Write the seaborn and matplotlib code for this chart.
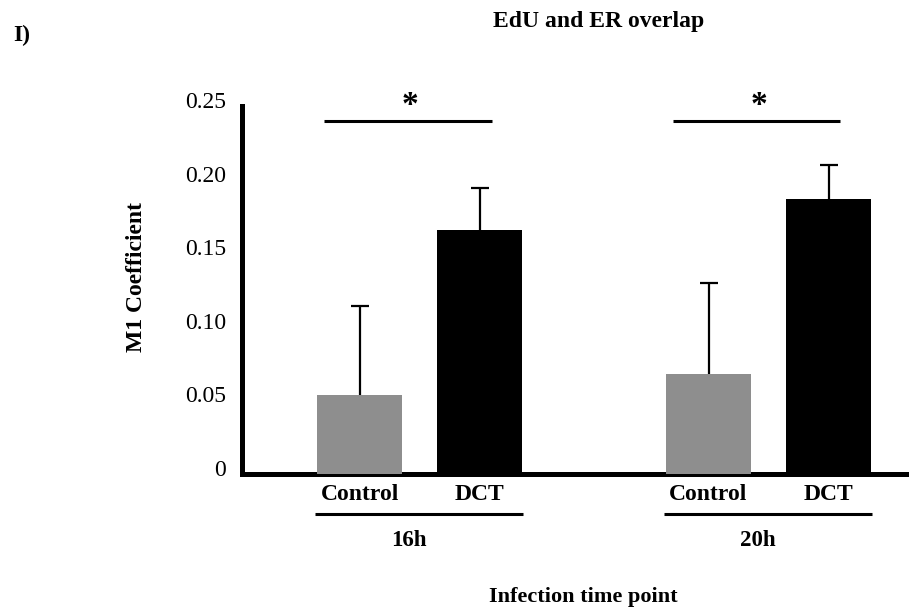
import numpy as np
import pandas as pd
import matplotlib
matplotlib.use("Agg")
import matplotlib.pyplot as plt
import matplotlib.transforms as mtransforms
import seaborn as sns

# ---- data ----
timepoints = ["16h", "20h"]
conditions = ["Control", "DCT"]
m1_control = [0.054, 0.068]
m1_dct = [0.166, 0.187]
err_control = [0.060, 0.062]
err_dct = [0.028, 0.023]
yticks = [0, 0.05, 0.10, 0.15, 0.20, 0.25]
ytick_labels = ["0", "0.05", "0.10", "0.15", "0.20", "0.25"]
sig_marks = ["*", "*"]

df = pd.DataFrame({
    "timepoint": timepoints * 2,
    "condition": [conditions[0]] * 2 + [conditions[1]] * 2,
    "m1": m1_control + m1_dct,
    "err": err_control + err_dct,
})

sns.set_theme(style="white")
plt.rcParams["font.family"] = ["Liberation Serif", "DejaVu Serif"]
plt.rcParams["text.color"] = "black"
plt.rcParams["axes.labelcolor"] = "black"
plt.rcParams["xtick.color"] = "black"
plt.rcParams["ytick.color"] = "black"

DPI = 100
fig = plt.figure(figsize=(9.09, 6.09), dpi=DPI)
W, H = 909, 609
ax_left, ax_right, ax_top, ax_bot = 241.5, 907, 106, 474
ax = fig.add_axes([ax_left / W, (H - ax_bot) / H, (ax_right - ax_left) / W, (ax_bot - ax_top) / H])

palette = {"Control": "#8e8e8e", "DCT": "#000000"}
sns.barplot(data=df, x="timepoint", y="m1", hue="condition", order=timepoints,
            hue_order=conditions, palette=palette, width=0.688, gap=0.29,
            errorbar=None, legend=False, saturation=1, ax=ax, zorder=3,
            edgecolor="none", linewidth=0)

# bar geometry from the library's placement
bars = sorted([p for p in ax.patches], key=lambda p: p.get_x())
centers = [p.get_x() + p.get_width() / 2 for p in bars]
heights = [p.get_height() for p in bars]
lefts = [p.get_x() for p in bars]
rights = [p.get_x() + p.get_width() for p in bars]
# order of sorted bars: 16h Control, 16h DCT, 20h Control, 20h DCT
errs = []
for tp in timepoints:
    for cond in conditions:
        errs.append(df[(df.timepoint == tp) & (df.condition == cond)]["err"].iloc[0])
ax.errorbar(centers, heights, yerr=errs, fmt="none", ecolor="black",
            elinewidth=1.6, capsize=6.5, capthick=1.6, zorder=2)

ax.set_ylim(0, 0.25)
ax.set_xlim(-0.511, 1.397)
ax.set_yticks(yticks)
ax.set_yticklabels(ytick_labels)
ax.tick_params(axis="y", length=0, pad=11, labelsize=17, labelcolor="black")
ax.set_xticks([])
ax.set_xlabel("")
ax.set_ylabel("")
for lab in ax.get_yticklabels():
    lab.set_transform(lab.get_transform() + mtransforms.ScaledTranslation(0, 6 / DPI, fig.dpi_scale_trans))

for s in ["top", "right"]:
    ax.spines[s].set_visible(False)
for s in ["left", "bottom"]:
    ax.spines[s].set_color("black")
    ax.spines[s].set_linewidth(3.6)

# significance lines and stars
tx = ax.get_xaxis_transform()
for g, mark in enumerate(sig_marks):
    c_idx, d_idx = 2 * g, 2 * g + 1
    gc = (centers[c_idx] + centers[d_idx]) / 2
    x0 = lefts[c_idx] + 0.02
    x1 = rights[d_idx] - 0.088
    ax.plot([x0, x1], [0.24, 0.24], color="black", lw=2.2, clip_on=False, solid_capstyle="butt")
    ax.text(gc - 0.028, 0.2505, mark, ha="center", va="center", fontsize=24,
            fontweight="bold", clip_on=False, color="black")

# category labels under bars
ax_h = ax_bot - ax_top
for i, c in enumerate(centers):
    ax.text(c, -21 / ax_h, conditions[i % 2], transform=tx, ha="center", va="center",
            fontsize=17, fontweight="bold", color="black")
for g, tp in enumerate(timepoints):
    c_idx, d_idx = 2 * g, 2 * g + 1
    ax.plot([lefts[c_idx] - 0.006, rights[d_idx] + 0.003], [-40 / ax_h] * 2, transform=tx,
            color="black", lw=2.2, clip_on=False, solid_capstyle="butt")
    gc = (centers[c_idx] + centers[d_idx]) / 2
    ax.text(gc - 0.03, -67 / ax_h, tp, transform=tx, ha="center", va="center",
            fontsize=16.5, fontweight="bold", color="black")

fig.text(583 / W, (H - 597) / H, "Infection time point", ha="center", va="center",
         fontsize=16, fontweight="bold", color="black")
fig.text(137 / W, (H - 277) / H, "M1 Coefficient", ha="center", va="center",
         rotation=90, fontsize=17, fontweight="bold", color="black")
fig.text(599 / W, (H - 21) / H, "EdU and ER overlap", ha="center", va="center",
         fontsize=17, fontweight="bold", color="black")
fig.text(13 / W, (H - 35) / H, "I)", ha="left", va="center", fontsize=17, fontweight="bold",
         color="black")

fig.savefig("out.png", dpi=DPI, facecolor="white")
